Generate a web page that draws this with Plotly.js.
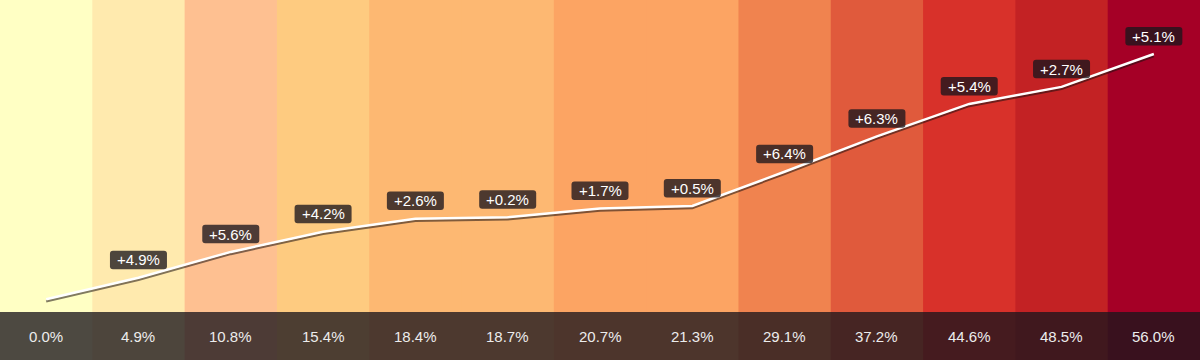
<!DOCTYPE html>
<html>
<head>
<meta charset="utf-8">
<script src="https://cdn.plot.ly/plotly-3.0.1.min.js"></script>
<style>
  html, body { margin: 0; padding: 0; background: #ffffff; }
  #chart { width: 1200px; height: 360px; }
  /* soft drop shadow under the cumulative line */
  .scatterlayer .js-line { filter: drop-shadow(0.5px 2px 0px rgba(25, 15, 15, 0.55)); }
</style>
</head>
<body>
<div id="chart"></div>
<script>
// Cumulative growth at each step (percent)
const cumulative = [0.0, 4.9, 10.8, 15.4, 18.4, 18.7, 20.7, 21.3, 29.1, 37.2, 44.6, 48.5, 56.0];
// Step-over-step change shown above each point (percent)
const changes = [null, 4.9, 5.6, 4.2, 2.6, 0.2, 1.7, 0.5, 6.4, 6.3, 5.4, 2.7, 5.1];
// Column band colours, one per step
const bandColors = ['#FFFFC4', '#FFEAAE', '#FEC091', '#FECB80', '#FDB872', '#FDB872',
                    '#FCA463', '#FCA463', '#F0834F', '#E05A3C', '#D8312A', '#C32224', '#A50026'];

const idx = cumulative.map((_, i) => i);
const overlay = 'rgba(27, 22, 28, 0.78)';
const font = '"Liberation Sans", Arial, sans-serif';

function roundedRect(w, h, r, bottom) {
  const x0 = -w / 2, x1 = w / 2, y0 = bottom, y1 = bottom + h;
  return `M ${x0 + r} ${y0} L ${x1 - r} ${y0} Q ${x1} ${y0} ${x1} ${y0 + r} ` +
         `L ${x1} ${y1 - r} Q ${x1} ${y1} ${x1 - r} ${y1} L ${x0 + r} ${y1} ` +
         `Q ${x0} ${y1} ${x0} ${y1 - r} L ${x0} ${y0 + r} Q ${x0} ${y0} ${x0 + r} ${y0} Z`;
}

const badgeW = 57, badgeH = 18.5, badgeLift = 17.8;

const shapes = [];
// vertical colour bands (slight overlap hides anti-aliased seams)
idx.forEach(i => {
  shapes.push({
    type: 'rect', layer: 'below', xref: 'x', yref: 'paper',
    x0: i - 0.5, x1: i + 0.52, y0: 0, y1: 1,
    fillcolor: bandColors[i], line: { width: 0 }
  });
});
// dark strip along the bottom
shapes.push({
  type: 'rect', layer: 'above', xref: 'paper', yref: 'paper',
  x0: 0, x1: 1, y0: 0, y1: 48 / 360,
  fillcolor: overlay, line: { width: 0 }
});
// rounded badges behind the change labels
idx.forEach(i => {
  if (changes[i] === null) return;
  shapes.push({
    type: 'path', layer: 'above', xref: 'x', yref: 'y',
    xsizemode: 'pixel', ysizemode: 'pixel',
    xanchor: i, yanchor: cumulative[i],
    path: roundedRect(badgeW, badgeH, 3, badgeLift - badgeH / 2),
    fillcolor: overlay, line: { width: 0 }
  });
});

const annotations = [];
idx.forEach(i => {
  if (changes[i] !== null) {
    annotations.push({
      x: i, y: cumulative[i], xref: 'x', yref: 'y', yshift: badgeLift,
      text: '+' + changes[i].toFixed(1) + '%', showarrow: false,
      xanchor: 'center', yanchor: 'middle',
      font: { family: font, size: 15, color: '#ffffff' }
    });
  }
  annotations.push({
    x: i, y: 24 / 360, xref: 'x', yref: 'paper',
    text: cumulative[i].toFixed(1) + '%', showarrow: false,
    xanchor: 'center', yanchor: 'middle',
    font: { family: font, size: 15, color: '#ececec' }
  });
});

const trace = {
  type: 'scatter', mode: 'lines',
  x: idx, y: cumulative,
  line: { color: '#ffffff', width: 2.5 },
  hoverinfo: 'skip'
};

const layout = {
  width: 1200, height: 360,
  margin: { l: 0, r: 0, t: 0, b: 0, pad: 0 },
  paper_bgcolor: bandColors[0], plot_bgcolor: 'rgba(0,0,0,0)',
  showlegend: false,
  xaxis: { range: [-0.5, 12.5], visible: false, fixedrange: true },
  yaxis: { range: [-13.89, 68.34], visible: false, fixedrange: true },
  shapes: shapes,
  annotations: annotations
};

Plotly.newPlot('chart', [trace], layout, { staticPlot: true, displayModeBar: false });
</script>
</body>
</html>
